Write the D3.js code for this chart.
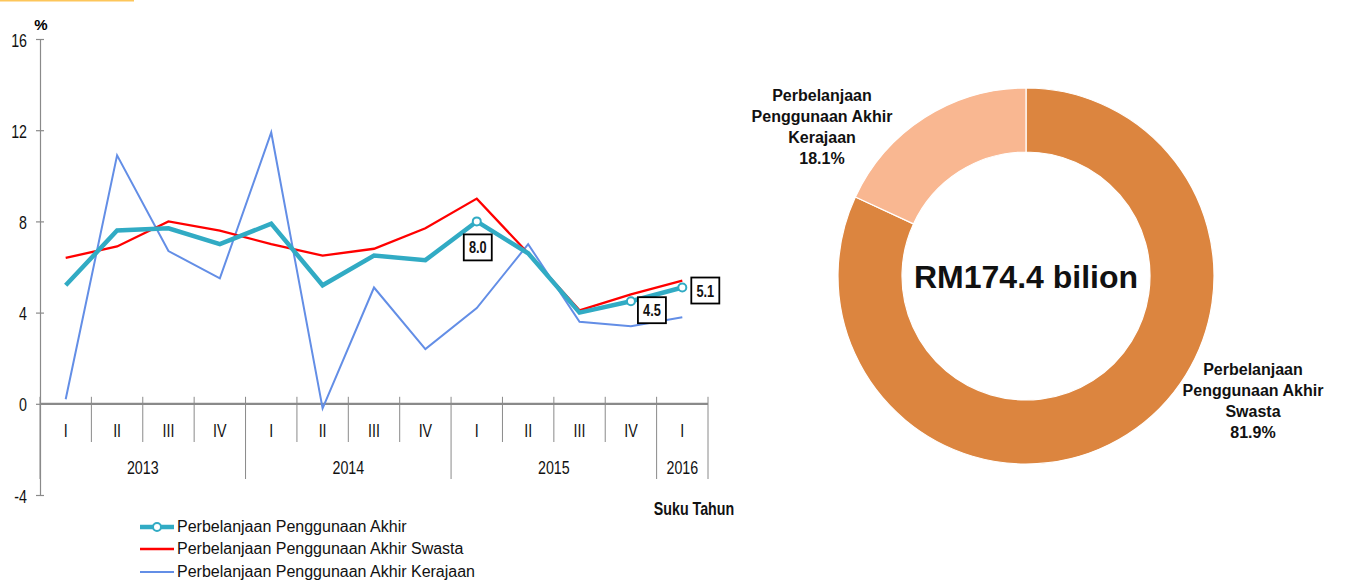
<!DOCTYPE html>
<html><head><meta charset="utf-8">
<script src="https://cdn.jsdelivr.net/npm/d3@7"></script>
<style>
body{margin:0;background:#fff;}
svg{display:block;}
.nar{font-family:"Liberation Sans Narrow","Arial Narrow","Liberation Sans",Arial,sans-serif;}
.reg{font-family:"Liberation Sans",Arial,sans-serif;}
</style></head><body>
<svg id="c" width="1351" height="580"></svg>
<script>
const quarters = ["I","II","III","IV","I","II","III","IV","I","II","III","IV","I"];
const yearLabels = ["2013","2014","2015","2016"];
const yearQuarterCounts = [4,4,4,1];
const yTicks = [-4,0,4,8,12,16];
const totalSeries = [5.2,7.6,7.7,7.0,7.9,5.2,6.5,6.3,8.0,6.6,4.0,4.5,5.1];
const swastaSeries = [6.4,6.9,8.0,7.6,7.0,6.5,6.8,7.7,9.0,6.6,4.1,4.8,5.4];
const kerajaanSeries = [0.2,10.9,6.7,5.5,11.9,-0.2,5.1,2.4,4.2,7.0,3.6,3.4,3.8];
const labelledIdx = [8,11,12];
const seriesNames = ["Perbelanjaan Penggunaan Akhir","Perbelanjaan Penggunaan Akhir Swasta","Perbelanjaan Penggunaan Akhir Kerajaan"];
const pieLabels = ["Perbelanjaan Penggunaan Akhir Swasta","Perbelanjaan Penggunaan Akhir Kerajaan"];
const pieValues = [81.9,18.1];
const pieTotal = "RM174.4 bilion";

const svg = d3.select("#c");
const SX = 0.75;
// condensed text helper
function ntext(parent, xx, yy, txt, size, anchor, bold){
  return parent.append("text").attr("class","nar")
    .attr("transform",`translate(${xx},${yy}) scale(${SX},1)`)
    .attr("text-anchor",anchor||"middle").attr("font-size",size)
    .attr("font-weight",bold?"bold":"normal").attr("fill","#111").text(txt);
}
// top decorative line
svg.append("rect").attr("x",0).attr("y",0).attr("width",134).attr("height",1.5).attr("fill","#fdc65a");

const x = d3.scaleBand().domain(d3.range(quarters.length)).range([40,708]);
const y = d3.scaleLinear().domain([-4,16]).range([495,39]);
const gray = "#8a8a8a";

// y axis
const ya = svg.append("g").attr("transform","translate(40,0)").call(d3.axisLeft(y).tickValues(yTicks).tickSize(4).tickFormat(d=>String(d)));
ya.select(".domain").attr("stroke",gray).attr("stroke-width",1.2);
ya.selectAll(".tick line").attr("x1",-4).attr("x2",4).attr("stroke",gray).attr("stroke-width",1.2);
ya.selectAll(".tick").each(function(d){
  const t = d3.select(this); t.select("text").remove();
  ntext(t, -13, 7, String(d), 19, "end", false);
});
svg.append("text").attr("class","reg").attr("x",41).attr("y",30).attr("text-anchor","middle").attr("font-size",15).attr("font-weight","bold").text("%");

// x axis baseline
const y0 = y(0);
svg.append("line").attr("x1",40).attr("x2",708).attr("y1",y0).attr("y2",y0).attr("stroke",gray).attr("stroke-width",2.2);
// dividers
const bounds = d3.range(quarters.length+1).map(i => i<quarters.length ? x(i) : x(quarters.length-1)+x.bandwidth());
const yearStarts = [0]; yearQuarterCounts.forEach((n,i)=>yearStarts.push(yearStarts[i]+n));
bounds.forEach((bx,i)=>{
  const isYear = yearStarts.includes(i);
  svg.append("line").attr("x1",bx).attr("x2",bx).attr("y1",y0-7).attr("y2",isYear ? 479 : 442)
    .attr("stroke",gray).attr("stroke-width",1);
});
quarters.forEach((q,i)=>ntext(svg, x(i)+x.bandwidth()/2, 437, q, 19));
yearLabels.forEach((yl,i)=>ntext(svg, (bounds[yearStarts[i]]+bounds[yearStarts[i+1]])/2, 474, yl, 19));
ntext(svg, 694, 515, "Suku Tahun", 19, "middle", true);

// lines
const cx = i => x(i)+x.bandwidth()/2;
const line = d3.line().x((d,i)=>cx(i)).y(d=>y(d));
svg.append("path").attr("d",line(kerajaanSeries)).attr("fill","none").attr("stroke","#638ee6").attr("stroke-width",2);
svg.append("path").attr("d",line(swastaSeries)).attr("fill","none").attr("stroke","#ff0000").attr("stroke-width",2.3);
svg.append("path").attr("d",line(totalSeries)).attr("fill","none").attr("stroke","#31abc4").attr("stroke-width",4.5);
svg.selectAll(".mk").data(labelledIdx).join("circle").attr("cx",d=>cx(d)).attr("cy",d=>y(totalSeries[d])).attr("r",4)
  .attr("fill","#fff").attr("stroke","#31abc4").attr("stroke-width",2);
const boxOff = {8:[1,26],11:[21,9],12:[23,3]};
labelledIdx.forEach(i=>{
  const bx = cx(i)+boxOff[i][0], by = y(totalSeries[i])+boxOff[i][1];
  svg.append("rect").attr("x",bx-14).attr("y",by-13).attr("width",28).attr("height",26).attr("fill","#fff").attr("stroke","#000").attr("stroke-width",1.8);
  ntext(svg, bx, by+6, totalSeries[i].toFixed(1), 17, "middle", true);
});

// legend
const lg = svg.append("g");
const lgColors = ["#31abc4","#ff0000","#638ee6"], lgW=[4.5,2.3,2], lgY=[527,549,572];
seriesNames.forEach((n,i)=>{
  lg.append("line").attr("x1",140).attr("x2",174).attr("y1",lgY[i]).attr("y2",lgY[i]).attr("stroke",lgColors[i]).attr("stroke-width",lgW[i]);
  if(i===0) lg.append("circle").attr("cx",157).attr("cy",lgY[i]).attr("r",4).attr("fill","#fff").attr("stroke",lgColors[0]).attr("stroke-width",2);
  lg.append("text").attr("class","reg").attr("x",177).attr("y",lgY[i]+5).attr("font-size",16).attr("fill","#111").text(n);
});

// donut
const pcx=1026, pcy=276;
const pie = d3.pie().sort(null).value(d=>d);
const arc = d3.arc().innerRadius(124).outerRadius(188);
const pg = svg.append("g").attr("transform",`translate(${pcx},${pcy})`);
pg.selectAll("path").data(pie(pieValues)).join("path").attr("d",arc).attr("fill",(d,i)=>["#dc853f","#f9b791"][i]).attr("stroke","#fff").attr("stroke-width",1.2);
pg.append("text").attr("class","reg").attr("x",0).attr("y",12).attr("text-anchor","middle").attr("font-size",32).attr("font-weight","bold").attr("fill","#111").text(pieTotal);
function wrapLabel(name,val,lx,ly){
  const words = name.split(" ");
  const lines = [words[0], words[1]+" "+words[2], words[3], val.toFixed(1)+"%"];
  lines.forEach((t,k)=>svg.append("text").attr("class","reg").attr("x",lx).attr("y",ly+k*21).attr("text-anchor","middle")
    .attr("font-size",16).attr("font-weight","bold").attr("fill","#111").text(t));
}
wrapLabel(pieLabels[1],pieValues[1],822,101);
wrapLabel(pieLabels[0],pieValues[0],1253,375);
</script></body></html>
